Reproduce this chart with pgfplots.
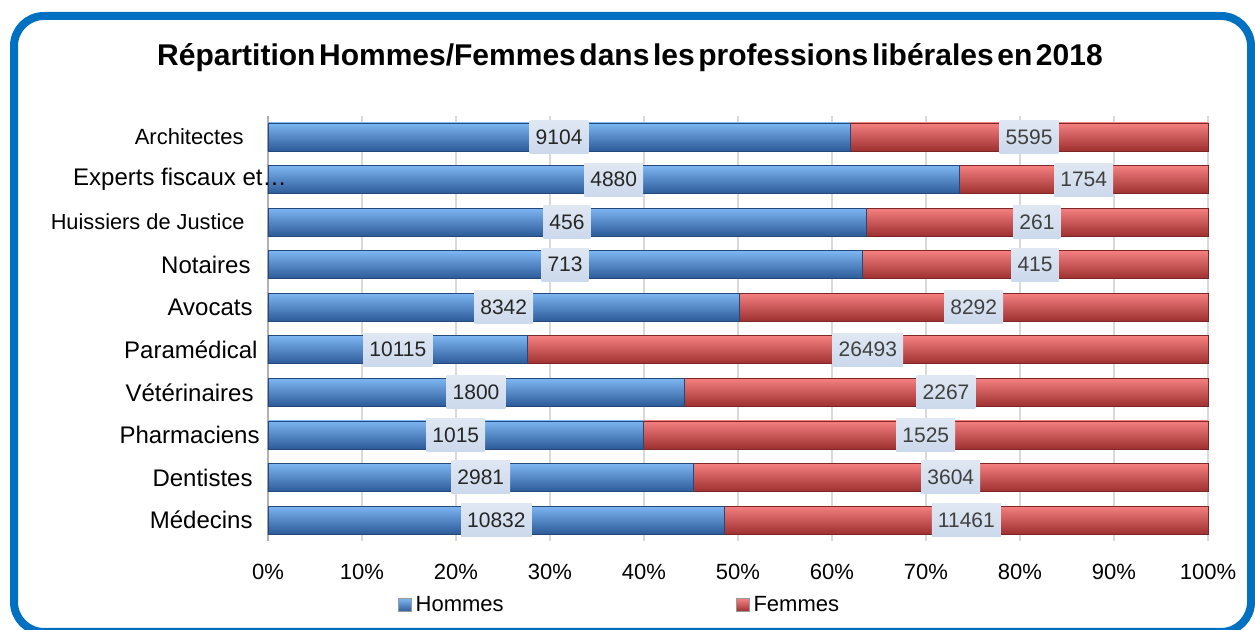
\documentclass[border=0pt]{standalone}
\usepackage{pgfplots}
\pgfplotsset{compat=1.18}
\usepackage{pgfplotstable}
\usepackage{fontspec}
\setmainfont{Liberation Sans}
\definecolor{frameblue}{HTML}{0070C0}
\definecolor{bluetop}{HTML}{7DB6F2}
\definecolor{bluemid}{HTML}{3F7BCB}
\definecolor{bluebot}{HTML}{2C5A98}
\definecolor{redtop}{HTML}{F58080}
\definecolor{redmid}{HTML}{D44646}
\definecolor{redbot}{HTML}{9E3030}
\definecolor{labtop}{HTML}{DFE7F2}
\definecolor{labmid}{HTML}{BACBE3}
\definecolor{labbot}{HTML}{CCD9EC}
\definecolor{gridc}{HTML}{D9D9D9}
\pgfplotstableread{
pos h f
9 9104 5595
8 4880 1754
7 456 261
6 713 415
5 8342 8292
4 10115 26493
3 1800 2267
2 1015 1525
1 2981 3604
0 10832 11461
}\data
\begin{document}
\begin{tikzpicture}
\useasboundingbox (0pt,0pt) rectangle (627.5pt,315pt);
\draw[frameblue, line width=4pt, rounded corners=15pt] (7pt,-1pt) rectangle (625.5pt,307pt);
\node[font=\bfseries\fontsize{15}{18}\selectfont] at (315pt,286pt) {\spaceskip=0.12em Répartition Hommes/Femmes dans les professions libérales en 2018};
\begin{axis}[
  at={(134pt,44.35pt)}, anchor=south west,
  scale only axis, width=470pt, height=212.8pt,
  xmin=0, xmax=100, ymin=-0.5, ymax=9.5, clip=false,
  axis line style={draw=none},
  major tick length=0pt,
  xtick={0,10,...,100},
  xticklabels={0\%,10\%,20\%,30\%,40\%,50\%,60\%,70\%,80\%,90\%,100\%},
  xticklabel style={font=\fontsize{11}{13}\selectfont, yshift=-8pt},
  ytick={0,...,9},
  yticklabels={Médecins\hspace*{3.5pt},Dentistes\hspace*{3.5pt},Pharmaciens,Vétérinaires\hspace*{3pt},Paramédical\hspace*{1pt},Avocats\hspace*{3.5pt},Notaires\hspace*{4.5pt},{\fontsize{10.9}{12}\selectfont Huissiers de Justice\hspace*{7.5pt}},{},{\fontsize{11}{12}\selectfont Architectes\hspace*{8pt}}},
  yticklabel style={font=\fontsize{12}{14}\selectfont, inner sep=0pt, xshift=-4pt},
  xmajorgrids, grid style={draw=gridc, line width=0.75pt},
  extra x ticks={0}, extra x tick labels={},
  extra x tick style={grid style={draw=black!30, line width=0.75pt}},
  legend style={at={(0.375,-0.15)}, anchor=center, draw=none, fill=none,
    font=\fontsize{11}{13}\selectfont, legend columns=2,
    /tikz/every even column/.append style={column sep=114pt}},
  legend image code/.code={\draw[#1,draw=black!40] (0pt,-3.25pt) rectangle (6.5pt,3.25pt);},
  every node near coord/.append style={font=\fontsize{10.5}{12}\selectfont},
]
\addlegendimage{top color=bluetop, middle color=bluemid, bottom color=bluebot}
\addlegendentry{Hommes}
\addlegendimage{top color=redtop, middle color=redmid, bottom color=redbot}
\addlegendentry{Femmes}
\pgfplotsinvokeforeach{0,...,9}{
\addplot[xbar, forget plot, bar width=14pt, bar shift=0pt, draw=redbot!80!black, line width=0.3pt,
  top color=redtop, middle color=redmid, bottom color=redbot,
  restrict expr to domain={\thisrow{pos}}{#1:#1}]
  table[x expr={100}, y=pos] \data;
\addplot[xbar, forget plot, bar width=14pt, bar shift=0pt, draw=bluebot!80!black, line width=0.3pt,
  top color=bluetop, middle color=bluemid, bottom color=bluebot,
  restrict expr to domain={\thisrow{pos}}{#1:#1}]
  table[x expr={100*\thisrow{h}/(\thisrow{h}+\thisrow{f})}, y=pos] \data;
}
\addplot[draw=none, mark=none, forget plot, nodes near coords, point meta=explicit symbolic,
  nodes near coords align={center},
  every node near coord/.append style={anchor=center, text=black!85, top color=labtop, middle color=labmid, bottom color=labbot, inner xsep=3pt, minimum height=16.5pt}]
  table[x expr={50*\thisrow{h}/(\thisrow{h}+\thisrow{f})}, y=pos, meta=h] \data;
\addplot[draw=none, mark=none, forget plot, nodes near coords, point meta=explicit symbolic,
  nodes near coords align={center},
  every node near coord/.append style={anchor=center, text=black!75, top color=labtop, middle color=labmid, bottom color=labbot, inner xsep=3pt, minimum height=16.5pt}]
  table[x expr={50+50*\thisrow{h}/(\thisrow{h}+\thisrow{f})}, y=pos, meta=f] \data;
\node[anchor=east, inner sep=0pt, font=\fontsize{12}{14}\selectfont, xshift=9.5pt] at (axis cs:0,8) {Experts fiscaux et…};
\end{axis}
\end{tikzpicture}
\end{document}
